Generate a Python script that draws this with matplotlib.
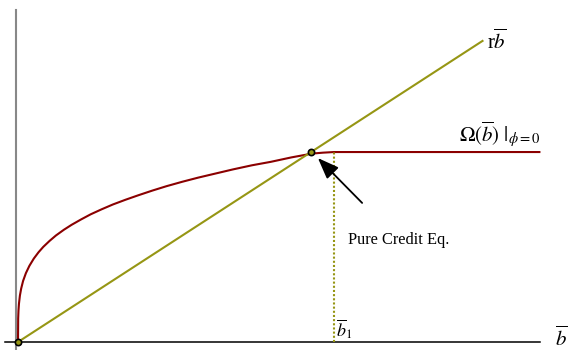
import matplotlib.pyplot as plt

plt.rcParams['mathtext.fontset'] = 'stix'
plt.rcParams['font.family'] = 'Liberation Serif'

# Omega(b), flat beyond b1
b_vals = [0.0, 0.0005, 0.0015, 0.003, 0.006, 0.01, 0.016, 0.025, 0.036, 0.05,
          0.065, 0.08, 0.10, 0.12, 0.145, 0.17, 0.20, 0.23, 0.265, 0.30, 0.34,
          0.38, 0.425, 0.47, 0.52, 0.57, 0.625, 0.68, 0.74, 0.80, 0.865, 0.93,
          0.965, 1.0, 1.65]
omega_vals = [0.0, 0.074, 0.100, 0.121, 0.147, 0.169, 0.193, 0.218, 0.241,
              0.264, 0.284, 0.301, 0.320, 0.337, 0.355, 0.371, 0.388, 0.404,
              0.420, 0.435, 0.450, 0.464, 0.479, 0.493, 0.507, 0.520, 0.533,
              0.546, 0.559, 0.570, 0.584, 0.596, 0.599, 0.601, 0.601]

r = 0.648
line_b = [0.0, 1.47]
b1 = 1.0
eq_b = 0.927
eq_omega = 0.601

fig = plt.figure(figsize=(5.71, 3.5), dpi=100)
ax = fig.add_axes([0, 0, 1, 1])
ax.set_xlim(-0.057, 1.750)
ax.set_ylim(-0.0253, 1.082)
ax.axis('off')

red = '#8b0000'
olive = '#969614'

# axes
ax.plot([-0.006, -0.006], [-0.025, 1.051], color='#888888', lw=1.5)
ax.plot([-0.041, 1.652], [0, 0], color='black', lw=1.1)

ax.plot(b_vals, omega_vals, color=red, lw=1.5, solid_joinstyle='round')
ax.plot(line_b, [r * b for b in line_b], color=olive, lw=1.5)
ax.plot([b1, b1], [0, eq_omega], color=olive, lw=1.5, ls=(0, (1, 1)))

for px, py in [(0.0, 0.0), (eq_b, eq_omega)]:
    ax.plot(px, py, 'o', ms=4.5, mfc=olive, mec='black', mew=1.2, zorder=5)

ax.annotate('', xy=(0.949, 0.582), xytext=(1.089, 0.440),
            arrowprops=dict(arrowstyle='-|>,head_length=1.3,head_width=0.5',
                            color='black', lw=1.3, shrinkA=0, shrinkB=0))

ax.text(1.044, 0.323, 'Pure Credit Eq.', fontsize=11.8, va='center', ha='left')
ax.text(1.484, 0.949, r'r$\overline{b}$', fontsize=15, va='center', ha='left')
ax.text(1.397, 0.655, r'$\Omega(\overline{b})\ |_{\phi=0}$', fontsize=15,
        va='center', ha='left')
ax.text(1.006, 0.040, r'$\overline{b}_1$', fontsize=13, va='center', ha='left')
ax.text(1.700, 0.012, r'$\overline{b}$', fontsize=15, va='center', ha='left')

fig.savefig('out.png', dpi=100)
